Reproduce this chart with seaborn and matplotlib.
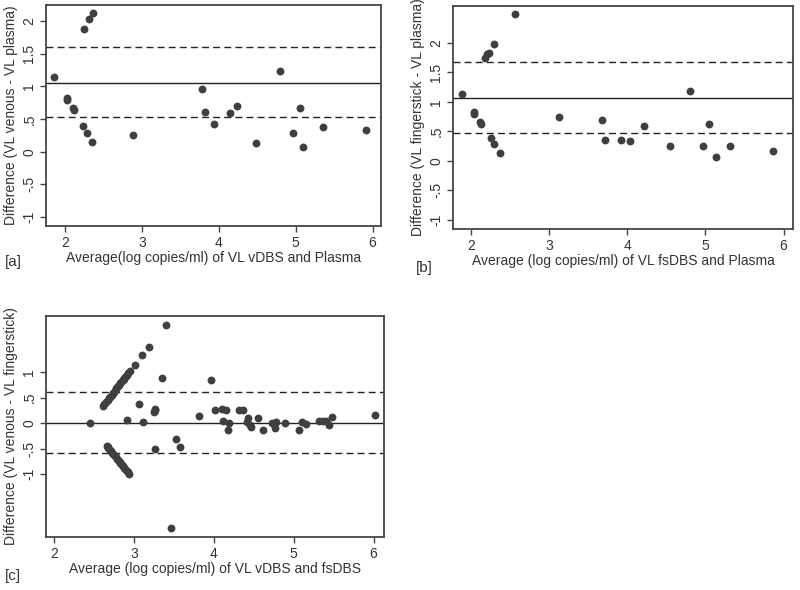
import matplotlib
matplotlib.use("Agg")
import matplotlib.pyplot as plt
import seaborn as sns
import pandas as pd

sns.set_theme(style="white")
plt.rcParams['font.family'] = ['Liberation Sans', 'DejaVu Sans']

# ---- Panel a data ----
a_x = [1.86, 2.02, 2.02, 2.10, 2.11, 2.24, 2.31, 2.36, 2.23, 2.29, 2.35, 2.88,
       3.78, 3.82, 3.93, 4.14, 4.24, 4.48, 4.80, 4.97, 5.05, 5.10, 5.35, 5.92]
a_y = [1.14, 0.82, 0.79, 0.67, 0.64, 1.88, 2.04, 2.12, 0.39, 0.29, 0.15, 0.26,
       0.96, 0.61, 0.43, 0.59, 0.70, 0.13, 1.23, 0.28, 0.67, 0.07, 0.38, 0.33]
a_lines = [1.05, 1.60, 0.53]  # mean, upper, lower

# ---- Panel b data ----
b_x = [1.88, 2.04, 2.04, 2.11, 2.13, 2.18, 2.21, 2.23, 2.30, 2.56, 2.25, 2.30,
       2.37, 3.13, 3.67, 3.71, 3.92, 4.03, 4.21, 4.55, 4.80, 4.97, 5.05, 5.14,
       5.31, 5.86]
b_y = [1.14, 0.82, 0.79, 0.66, 0.62, 1.75, 1.82, 1.83, 1.98, 2.50, 0.39, 0.29,
       0.14, 0.74, 0.70, 0.35, 0.36, 0.33, 0.59, 0.25, 1.18, 0.25, 0.63, 0.07,
       0.25, 0.16]
b_lines = [1.06, 1.68, 0.48]

# ---- Panel c data ----
c_x = [2.45,
       2.61, 2.63, 2.65, 2.67, 2.69, 2.70, 2.72, 2.74, 2.75, 2.77, 2.78, 2.80,
       2.81, 2.83, 2.84, 2.86, 2.87, 2.88, 2.90, 2.91, 2.93, 2.95,
       2.66, 2.67, 2.68, 2.70, 2.71, 2.73, 2.74, 2.76, 2.77, 2.79, 2.80, 2.82,
       2.83, 2.85, 2.86, 2.88, 2.89, 2.91, 2.92, 2.94,
       3.01, 3.10, 3.19, 3.40, 3.35, 3.07, 2.91, 3.12, 3.25, 3.26, 3.27, 3.26,
       3.53, 3.58, 3.46, 3.82, 3.96, 4.01, 4.10, 4.15, 4.12, 4.18, 4.19, 4.31,
       4.37, 4.43, 4.41, 4.45, 4.46, 4.55, 4.61, 4.73, 4.77, 4.78, 4.89, 5.07,
       5.11, 5.16, 5.32, 5.37, 5.41, 5.44, 5.48, 6.02]
c_y = [0.00,
       0.34, 0.38, 0.42, 0.46, 0.50, 0.52, 0.56, 0.60, 0.62, 0.66, 0.68, 0.72,
       0.74, 0.78, 0.80, 0.84, 0.86, 0.88, 0.92, 0.94, 0.98, 1.02,
       -0.44, -0.46, -0.48, -0.52, -0.54, -0.58, -0.60, -0.64, -0.66, -0.70,
       -0.72, -0.76, -0.78, -0.82, -0.84, -0.88, -0.90, -0.94, -0.96, -1.00,
       1.14, 1.34, 1.50, 1.93, 0.89, 0.37, 0.06, 0.03, 0.21, 0.26, 0.28, -0.50,
       -0.31, -0.46, -2.06, 0.14, 0.84, 0.25, 0.27, 0.25, 0.05, -0.14, 0.00, 0.25,
       0.25, 0.11, 0.03, -0.03, -0.07, 0.11, -0.13, 0.00, -0.10, 0.03, 0.00, -0.14,
       0.03, -0.01, 0.05, 0.05, 0.05, -0.03, 0.12, 0.16]
c_lines = [0.0, 0.61, -0.59]

x_ticks = [2, 3, 4, 5, 6]
ab_yticks = [-1, -0.5, 0, 0.5, 1, 1.5, 2]
ab_yticklabels = ["-1", "-.5", "0", ".5", "1", "1.5", "2"]
c_yticks = [-1, -0.5, 0, 0.5, 1]
c_yticklabels = ["-1", "-.5", "0", ".5", "1"]

TXT = "#333333"
MK = "#3f3f3f"
FRAME = "#444444"

fig = plt.figure(figsize=(8, 5.9), dpi=100)

panels = [
    dict(rect=[46/800, 1-226/590, 335/800, 221/590], x=a_x, y=a_y, lines=a_lines,
         xlim=(1.75, 6.11), ylim=(-1.14, 2.25), yt=ab_yticks, ytl=ab_yticklabels,
         xlabel="Average(log copies/ml) of VL vDBS and Plasma",
         ylabel="Difference (VL venous - VL plasma)", tag="[a]", tagpos=(5/800, 1-262/590)),
    dict(rect=[453/800, 1-229/590, 340/800, 223/590], x=b_x, y=b_y, lines=b_lines,
         xlim=(1.77, 6.12), ylim=(-1.16, 2.63), yt=ab_yticks, ytl=ab_yticklabels,
         xlabel="Average (log copies/ml) of VL fsDBS and Plasma",
         ylabel="Difference (VL fingerstick - VL plasma)", tag="[b]", tagpos=(416/800, 1-268/590)),
    dict(rect=[46/800, 1-537/590, 338/800, 221/590], x=c_x, y=c_y, lines=c_lines,
         xlim=(1.90, 6.13), ylim=(-2.23, 2.10), yt=c_yticks, ytl=c_yticklabels,
         xlabel="Average (log copies/ml) of VL vDBS and fsDBS",
         ylabel="Difference (VL venous - VL fingerstick)", tag="[c]", tagpos=(5/800, 1-576/590)),
]

for p in panels:
    ax = fig.add_axes(p["rect"])
    df = pd.DataFrame({"avg": p["x"], "diff": p["y"]})
    sns.scatterplot(data=df, x="avg", y="diff", ax=ax, color=MK, s=32,
                    edgecolor=MK, linewidth=0, zorder=3)
    m, up, lo = p["lines"]
    ax.axhline(m, color="#222222", lw=1.0, zorder=2)
    ax.axhline(up, color="#222222", lw=1.0, ls=(0, (5, 3)), zorder=2)
    ax.axhline(lo, color="#222222", lw=1.0, ls=(0, (5, 3)), zorder=2)
    ax.set_xlim(*p["xlim"])
    ax.set_ylim(*p["ylim"])
    ax.set_xticks(x_ticks)
    ax.set_xticklabels([str(t) for t in x_ticks])
    ax.set_yticks(p["yt"])
    ax.set_yticklabels(p["ytl"], rotation=90, va="center")
    ax.tick_params(axis="both", direction="out", length=4, width=1, color=FRAME,
                   labelsize=10, labelcolor=TXT, pad=3, left=True, bottom=True)
    ax.set_xlabel(p["xlabel"], fontsize=10, color=TXT, labelpad=1)
    ax.set_ylabel(p["ylabel"], fontsize=10, color=TXT, labelpad=3)
    for s in ax.spines.values():
        s.set_color(FRAME)
        s.set_linewidth(1.3)
    ax.set_facecolor("white")
    fig.text(p["tagpos"][0], p["tagpos"][1], p["tag"], fontsize=11, color=TXT,
             va="center", ha="left")

fig.savefig("out.png", dpi=100, facecolor="white")
